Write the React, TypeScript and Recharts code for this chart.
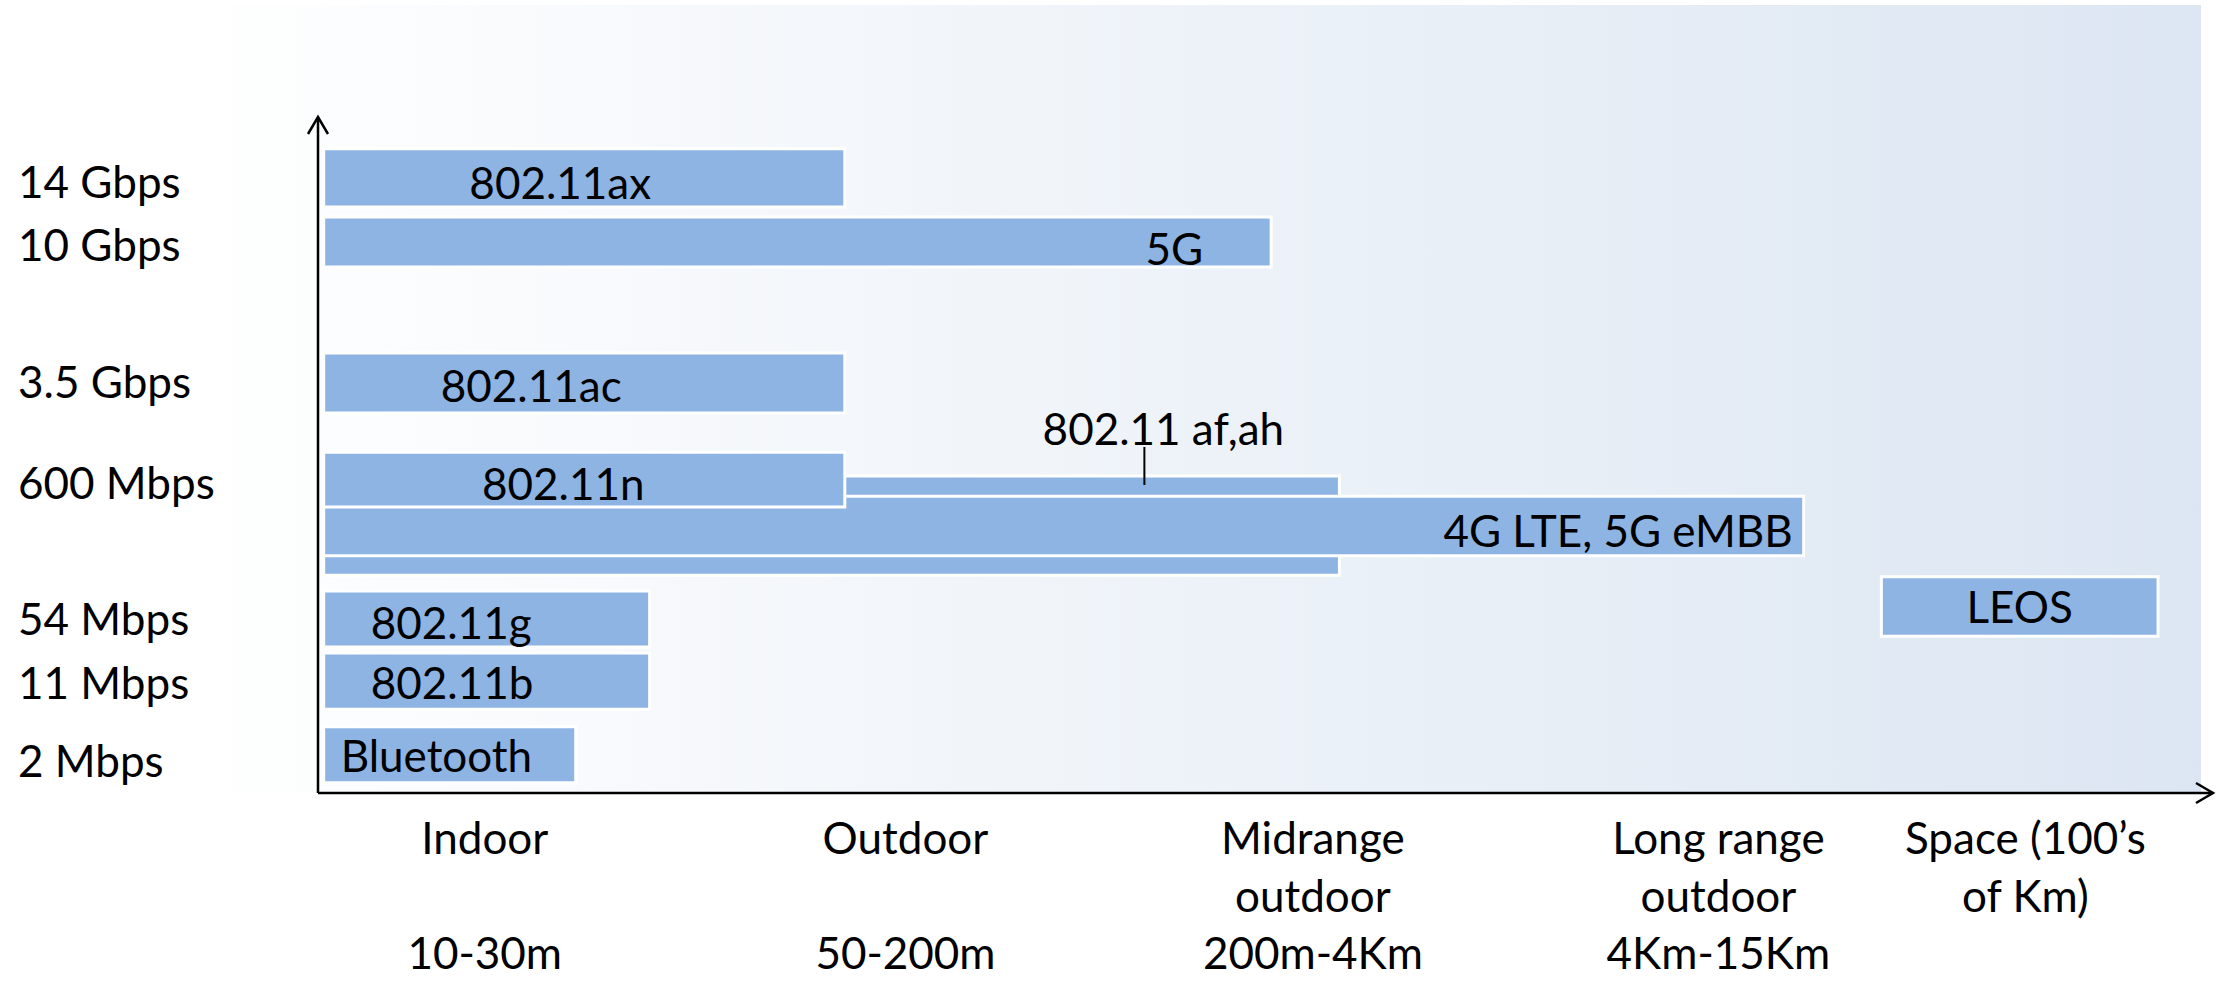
import React from 'react';
import { ComposedChart, XAxis, YAxis, ReferenceArea } from 'recharts';

// technologies, drawn in this order (af,ah sits behind 4G, and 802.11n sits on top of both)
const technologies = ['802.11 af,ah', '802.11ax', '5G', '802.11ac', '4G LTE, 5G eMBB', '802.11n', '802.11g', '802.11b', 'Bluetooth', 'LEOS'];
const rangeStart = [0.3, 0.3, 0.3, 0.3, 0.3, 0.3, 0.3, 0.3, 0.3, 82.5];
const rangeEnd = [53.9, 27.8, 50.3, 27.8, 78.4, 27.8, 17.5, 17.5, 13.6, 97.1];
const rateLow = [32.2, 86.7, 77.8, 56.2, 35.1, 42.3, 21.6, 12.4, 1.5, 23.2];
const rateHigh = [46.9, 95.3, 85.2, 65.1, 43.9, 50.4, 29.9, 20.7, 9.8, 32.0];

const rateTicks = [90.5, 81.2, 60.9, 46.0, 25.9, 16.4, 4.9];
const rateLabels = ['14 Gbps', '10 Gbps', '3.5 Gbps', '600 Mbps', '54 Mbps', '11 Mbps', '2 Mbps'];

const rangeTicks = [8.8, 31.0, 52.5, 73.9, 90.1];
const rangeNames = [['Indoor'], ['Outdoor'], ['Midrange', 'outdoor'], ['Long range', 'outdoor'], ['Space (100\u2019s', 'of Km)']];
const rangeDistances = ['10-30m', '50-200m', '200m-4Km', '4Km-15Km', ''];

const rows = technologies.map((name, i) => ({
  name,
  start: rangeStart[i],
  end: rangeEnd[i],
  low: rateLow[i],
  high: rateHigh[i],
}));

const FONT = 'Lato, "Noto Sans", sans-serif';
const FONT_SIZE = 44;
const BAR_FILL = '#8EB4E3';

type Align = 'left' | 'center' | 'right' | 'above';
const labelStyle: Record<string, { align: Align; dx: number; dy: number }> = {
  '802.11 af,ah': { align: 'above', dx: 19, dy: -48 },
  '802.11ax': { align: 'center', dx: -24, dy: 4 },
  '5G': { align: 'right', dx: -68, dy: 6 },
  '802.11ac': { align: 'center', dx: -53, dy: 2 },
  '802.11n': { align: 'center', dx: -21, dy: 3 },
  '4G LTE, 5G eMBB': { align: 'right', dx: -11, dy: 4 },
  '802.11g': { align: 'left', dx: 47, dy: 3 },
  '802.11b': { align: 'left', dx: 47, dy: 1 },
  Bluetooth: { align: 'left', dx: 17, dy: 0 },
  LEOS: { align: 'center', dx: 0, dy: 0 },
};

const barLabel = (name: string) => (props: any) => {
  const vb = props.viewBox || {};
  const { x, y, width, height } = vb;
  const s = labelStyle[name];
  const textProps = { fontFamily: FONT, fontSize: FONT_SIZE, fill: '#000', dominantBaseline: 'central' as const };
  if (s.align === 'above') {
    const lx = x + width * 0.808;
    return (
      <g>
        <line x1={lx} x2={lx} y1={y - 29} y2={y + 9} stroke="#000" strokeWidth={2} />
        <text x={lx + s.dx} y={y + s.dy} textAnchor="middle" {...textProps}>{name}</text>
      </g>
    );
  }
  const cy = y + height / 2 + s.dy;
  if (s.align === 'left') {
    return <text x={x + s.dx} y={cy} textAnchor="start" {...textProps}>{name}</text>;
  }
  if (s.align === 'right') {
    return <text x={x + width + s.dx} y={cy} textAnchor="end" {...textProps}>{name}</text>;
  }
  return <text x={x + width / 2 + s.dx} y={cy} textAnchor="middle" {...textProps}>{name}</text>;
};

const RateTick = (props: any) => {
  const { x, y, payload } = props;
  const idx = rateTicks.indexOf(payload.value);
  return (
    <text x={x - 300} y={y} textAnchor="start" dominantBaseline="central" fontFamily={FONT} fontSize={FONT_SIZE} fill="#000">
      {rateLabels[idx]}
    </text>
  );
};

const RangeTick = (props: any) => {
  const { x, y, payload } = props;
  const idx = rangeTicks.indexOf(payload.value);
  const lines = rangeNames[idx] || [];
  return (
    <g>
      {lines.map((line, i) => (
        <text key={i} x={x} y={y + 44 + i * 58} textAnchor="middle" dominantBaseline="central" fontFamily={FONT} fontSize={FONT_SIZE} fill="#000">
          {line}
        </text>
      ))}
      {rangeDistances[idx] ? (
        <text x={x} y={y + 159} textAnchor="middle" dominantBaseline="central" fontFamily={FONT} fontSize={FONT_SIZE} fill="#000">
          {rangeDistances[idx]}
        </text>
      ) : null}
    </g>
  );
};

export default function App() {
  return (
    <div style={{ position: 'relative', width: 2230, height: 981, background: '#fff' }}>
      <style>{'body{margin:0}'}</style>
      <div
        style={{
          position: 'absolute',
          left: 0,
          top: 5,
          width: 2201,
          height: 788,
          background: 'linear-gradient(90deg, #ffffff 8%, #dce6f2 100%)',
        }}
      />
      <div style={{ position: 'absolute', left: 0, top: 0 }}>
        <ComposedChart width={2230} height={981} data={rows} margin={{ top: 117, right: 17, left: 0, bottom: 0 }}>
          <defs>
            <marker id="axisArrow" viewBox="-2 -2 24 26" refX={17} refY={10} markerWidth={24} markerHeight={26} markerUnits="userSpaceOnUse" orient="auto-start-reverse">
              <path d="M0,0 L17,10 L0,20" fill="none" stroke="#000" strokeWidth={2.5} />
            </marker>
          </defs>
          <XAxis
            type="number"
            dataKey="end"
            domain={[0, 100]}
            allowDataOverflow
            ticks={rangeTicks}
            interval={0}
            height={188}
            tickSize={0}
            tickMargin={0}
            tickLine={false}
            axisLine={{ stroke: '#000', strokeWidth: 2.5, markerEnd: 'url(#axisArrow)' }}
            tick={<RangeTick />}
          />
          <YAxis
            type="number"
            dataKey="high"
            domain={[0, 100]}
            allowDataOverflow
            ticks={rateTicks}
            interval={0}
            width={318}
            tickSize={0}
            tickMargin={0}
            tickLine={false}
            axisLine={{ stroke: '#000', strokeWidth: 2.5, markerStart: 'url(#axisArrow)' }}
            tick={<RateTick />}
          />
          {rows.map((r) => (
            <ReferenceArea
              key={r.name}
              x1={r.start}
              x2={r.end}
              y1={r.low}
              y2={r.high}
              fill={BAR_FILL}
              fillOpacity={1}
              stroke="#fff"
              strokeWidth={3}
              ifOverflow="visible"
              label={barLabel(r.name)}
            />
          ))}
        </ComposedChart>
      </div>
    </div>
  );
}
